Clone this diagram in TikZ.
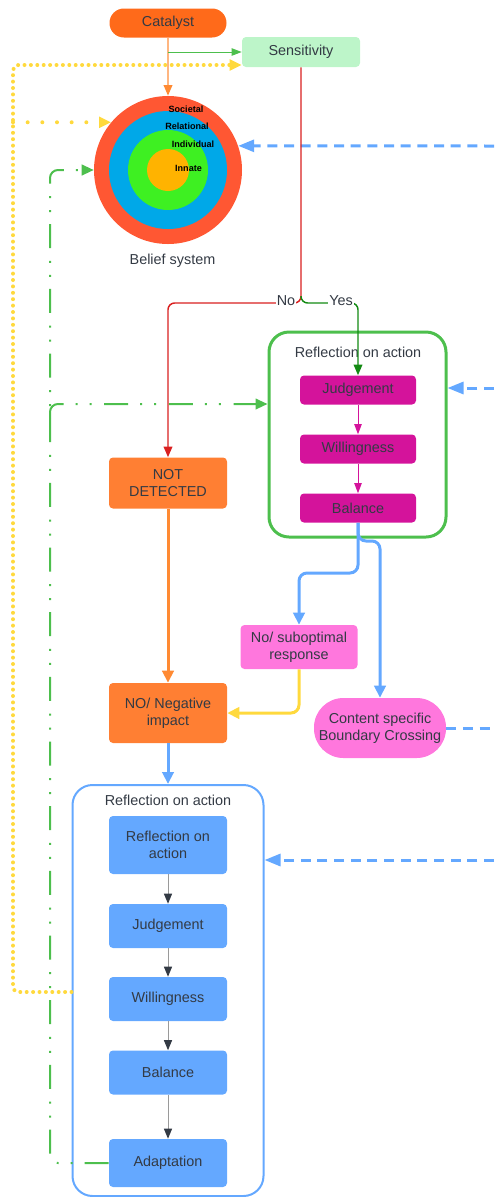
\documentclass[tikz,border=0pt]{standalone}
\usepackage{fontspec}
\setmainfont{Liberation Sans}
\usetikzlibrary{arrows.meta}
\definecolor{txtgray}{HTML}{333A44}
\definecolor{catorange}{HTML}{FF6A1A}
\definecolor{sensgreen}{HTML}{BDF5C9}
\definecolor{ringred}{HTML}{FF5733}
\definecolor{ringblue}{HTML}{00A8E8}
\definecolor{ringgreen}{HTML}{3EF022}
\definecolor{ringgold}{HTML}{FFB300}
\definecolor{boxmagenta}{HTML}{D4139B}
\definecolor{boxpink}{HTML}{FF77DD}
\definecolor{boxorange}{HTML}{FF7F33}
\definecolor{boxblue}{HTML}{64A8FF}
\definecolor{framegreen}{HTML}{4DBF4D}
\definecolor{linered}{HTML}{D92020}
\definecolor{linegreen}{HTML}{138A13}
\definecolor{lineyellow}{HTML}{FFD93D}
\definecolor{lineorange}{HTML}{FF8A33}
\definecolor{linepeach}{HTML}{FFB680}
\definecolor{arrowgray}{HTML}{9A9A9A}

\begin{document}
\begin{tikzpicture}[x=0.75pt, y=-0.75pt, font=\fontsize{10.8}{12.6}\selectfont, text=txtgray,
    box/.style={rectangle, rounded corners=3pt, minimum width=88.5pt, inner sep=0pt, align=center},
    pill/.style={box, rounded corners=10.8pt},
    frame/.style={rectangle, rounded corners=15pt, inner sep=0pt},
    ring/.style={circle, inner sep=0pt},
    ringlabel/.style={font=\fontsize{6.8}{8}\selectfont\bfseries, text=black, inner sep=0pt},
    lbl/.style={fill=white, inner sep=0.6pt},
    thinarrow/.style={line width=0.75pt, -{Triangle[length=7.5pt,width=5.5pt]}},
    thickarrow/.style={line width=2.25pt, rounded corners=6pt, -{Triangle[length=9pt,width=8.5pt]}},
    yellowdot/.style={lineyellow, line width=3pt, line cap=round, dash pattern=on 0pt off 4.8pt, rounded corners=4pt, -{Triangle[length=9pt,width=8pt]}},
    greendash/.style={framegreen, line width=1.5pt, rounded corners=6pt, dash pattern=on 18pt off 9pt on 1.5pt off 9pt on 1.5pt off 9.5pt, -{Triangle[length=9pt,width=8pt]}},
    bluedash/.style={boxblue, line width=2.25pt, dash pattern=on 7.5pt off 5pt, -{Triangle[length=12pt,width=9pt]}}
  ]
  \useasboundingbox (0,0) rectangle (494,1197);

  % frames
  \node[frame, draw=framegreen, line width=2.25pt, minimum width=132.75pt, minimum height=153.75pt] (reflA) at (357.5,434.5) {};
  \node[frame, draw=boxblue, line width=1.5pt, minimum width=143.25pt, minimum height=308.25pt] (blueframe) at (168,990.5) {};
  \node (titleA) at (358,352) {Reflection on action};
  \node (titleB) at (168,800) {Reflection on action};

  % top
  \node[pill, fill=catorange, minimum width=87.75pt, minimum height=21.75pt] (catalyst) at (168,23) {Catalyst};
  \node[box, fill=sensgreen, minimum height=22.5pt] (sensitivity) at (301,52) {Sensitivity};
  \node[ring, fill=ringred, minimum size=111pt] (belief) at (168,170) {};
  \node[ring, fill=ringblue, minimum size=88.5pt] (relring) at (168,170) {};
  \node[ring, fill=ringgreen, minimum size=60pt] (indring) at (168,170) {};
  \node[ring, fill=ringgold, minimum size=31.5pt] (innring) at (168,170) {};
  \node[ringlabel] (societal) at (186,109) {Societal};
  \node[ringlabel] (relational) at (187,126) {Relational};
  \node[ringlabel] (individual) at (193,144) {Individual};
  \node[ringlabel] (innate) at (188.5,168) {Innate};
  \node (beliefsys) at (172.5,261) {Belief system};

  % reflection in action
  \node[box, fill=boxmagenta, minimum width=87pt, minimum height=21.75pt] (judgeA) at (358,390) {Judgement};
  \node[box, fill=boxmagenta, minimum width=87pt, minimum height=21.75pt] (willA) at (358,449) {Willingness};
  \node[box, fill=boxmagenta, minimum width=87pt, minimum height=21.75pt] (balA) at (358,508) {Balance};

  \node[box, fill=boxorange, minimum height=38.25pt] (notdet) at (168,483) {NOT\\DETECTED};
  \node[box, fill=boxorange, minimum height=45pt] (noneg) at (168,713) {NO/ Negative\\impact};
  \node[box, fill=boxpink, minimum width=87.75pt, minimum height=33pt] (subopt) at (299,647) {No/ suboptimal\\response};
  \node[pill, fill=boxpink, minimum width=99pt, minimum height=45pt, rounded corners=22pt] (content) at (380,728) {Content specific\\Boundary Crossing};

  % reflection on action
  \node[box, fill=boxblue, minimum height=43.5pt] (reflB) at (168,845) {Reflection on\\action};
  \node[box, fill=boxblue, minimum height=33pt] (judgeB) at (168,926) {Judgement};
  \node[box, fill=boxblue, minimum height=33pt] (willB) at (168,999) {Willingness};
  \node[box, fill=boxblue, minimum height=33pt] (balB) at (168,1072.5) {Balance};
  \node[box, fill=boxblue, minimum height=36pt] (adapt) at (168,1163) {Adaptation};

  \coordinate (catsplit) at (168,52);
  \coordinate (ycorner1) at (13,992);
  \coordinate (ycorner2) at (13,65);
  \coordinate (gcorner1) at (50,1163);
  \coordinate (gcorner2) at (50,170);
  \coordinate (gbranch) at (50,418);
  \coordinate (gbranchtop) at (50,404);
  \coordinate (split) at (301,296);
  \coordinate (nojoin) at (301,303);
  \coordinate (bturn1) at (358,573);
  \coordinate (bturn2) at (358,541);
  \coordinate (edge1) at (494,146);
  \coordinate (edge2) at (494,388);
  \coordinate (edge3) at (494,728);
  \coordinate (edge4) at (494,860);

  \draw[bluedash] (edge1) -- (belief.19);
  \draw[bluedash] (edge2) -- (edge2 -| reflA.east);
  \draw[bluedash, -] (content.east) -- (edge3);
  \draw[bluedash] (edge4) -- (edge4 -| blueframe.east);

  \draw[yellowdot] (blueframe.west |- ycorner1) -- (ycorner1) -- (ycorner2) -- (ycorner2 -| sensitivity.west);
  \draw[yellowdot, dash pattern=on 0pt off 11pt] (belief.140 -| ycorner2) -- (belief.140);

  \draw[greendash] (adapt.west) -- (gcorner1) -- (gcorner2) -- (belief.west);
  \draw[greendash] (gbranch) -- (gbranchtop) -- (gbranchtop -| reflA.west);
  \draw[thinarrow, linepeach, line width=1.1pt, -{Triangle[length=8pt,width=6.5pt,color=lineorange]}] (catalyst) -- (belief);
  \draw[thinarrow, framegreen] (catsplit) -- (sensitivity.west);

  \draw[thinarrow, linered, line width=1.1pt, rounded corners=5pt, -{Triangle[length=8pt,width=6.5pt]}] (sensitivity.south) -- (nojoin) -- (nojoin -| notdet) -- (notdet.north);
  \draw[thinarrow, linegreen, line width=1.1pt, rounded corners=5pt, -{Triangle[length=8pt,width=6.5pt]}] (split) -- (nojoin) -- (nojoin -| judgeA) -- (judgeA.north);
  \node[lbl] (nolbl) at (286,301) {No};
  \node[lbl] (yeslbl) at (341,301) {Yes};

  \draw[thinarrow, boxmagenta] (judgeA) -- (willA);
  \draw[thinarrow, boxmagenta] (willA) -- (balA);

  \draw[thickarrow, boxblue] (balA.south) -- (bturn1) -- (bturn1 -| subopt) -- (subopt.north);
  \draw[thickarrow, boxblue] (balA.south) -- (bturn2) -- (bturn2 -| content) -- (content.north);
  \draw[thickarrow, lineyellow] (subopt.south) -- (subopt.south |- noneg.east) -- (noneg.east);
  \draw[thickarrow, lineorange] (notdet) -- (noneg);
  \draw[thickarrow, boxblue] (noneg) -- (blueframe);

  \foreach \a/\b in {reflB/judgeB, judgeB/willB, willB/balB, balB/adapt}
    \draw[thinarrow, arrowgray, -{Triangle[length=7.5pt,width=6pt,color=txtgray]}] (\a) -- (\b);
\end{tikzpicture}
\end{document}
